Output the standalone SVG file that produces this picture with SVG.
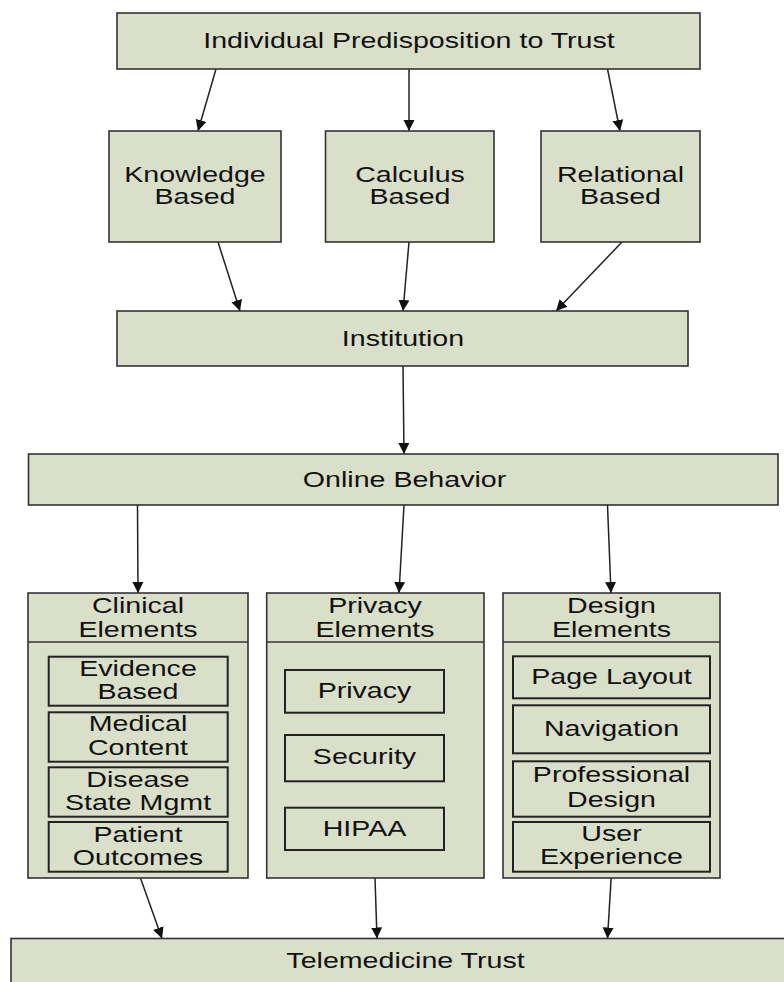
<svg xmlns="http://www.w3.org/2000/svg" width="784" height="982" viewBox="0 0 784 982">
<defs>
<style>
.box{fill:#dadfca;stroke:#333;stroke-width:1.6}
.inner{fill:#dadfca;stroke:#222;stroke-width:2}
.div{stroke:#333;stroke-width:1.6}
.t{font-family:"Liberation Sans",Arial,sans-serif;font-size:22px;fill:#111;text-anchor:middle}
.c{stroke:#222;stroke-width:1.5;fill:none;marker-end:url(#ah)}
</style>
<marker id="ah" viewBox="0 0 10 10" refX="10" refY="5" markerUnits="userSpaceOnUse" markerWidth="11" markerHeight="13" orient="auto">
<path d="M0,0 L10,5 L0,10 z" fill="#111"/>
</marker>
</defs>
<rect width="784" height="982" fill="#fff"/>
<g id="connectors">
<line class="c" x1="216" y1="69" x2="198" y2="131"/>
<line class="c" x1="409" y1="69" x2="409" y2="131"/>
<line class="c" x1="607.5" y1="69" x2="620" y2="131"/>
<line class="c" x1="218" y1="242" x2="240" y2="311"/>
<line class="c" x1="409" y1="242" x2="403" y2="311"/>
<line class="c" x1="622" y1="242" x2="556" y2="311"/>
<line class="c" x1="403" y1="366" x2="404" y2="454"/>
<line class="c" x1="137.5" y1="505" x2="138" y2="593"/>
<line class="c" x1="404" y1="505" x2="399" y2="593"/>
<line class="c" x1="607.5" y1="505" x2="611" y2="593"/>
<line class="c" x1="138.3" y1="872" x2="162" y2="938.5"/>
<line class="c" x1="375" y1="878" x2="377" y2="938.5"/>
<line class="c" x1="611.5" y1="872" x2="607.5" y2="938.5"/>
</g>
<g id="predisposition">
<rect class="box" x="117" y="13" width="583" height="56"/>
<text class="t" transform="translate(409 0) scale(1.3 1)"><tspan x="0" y="48.5">Individual Predisposition to Trust</tspan></text>
</g>
<g id="knowledge">
<rect class="box" x="109" y="131" width="172" height="111"/>
<text class="t" transform="translate(195 0) scale(1.3 1)"><tspan x="0" y="182">Knowledge</tspan><tspan x="0" y="204.5">Based</tspan></text>
</g>
<g id="calculus">
<rect class="box" x="325.5" y="131" width="168.5" height="111"/>
<text class="t" transform="translate(410 0) scale(1.3 1)"><tspan x="0" y="182">Calculus</tspan><tspan x="0" y="204.5">Based</tspan></text>
</g>
<g id="relational">
<rect class="box" x="541" y="131" width="159" height="111"/>
<text class="t" transform="translate(620.5 0) scale(1.3 1)"><tspan x="0" y="182">Relational</tspan><tspan x="0" y="204.5">Based</tspan></text>
</g>
<g id="institution">
<rect class="box" x="117" y="311" width="571" height="55"/>
<text class="t" transform="translate(403 0) scale(1.3 1)"><tspan x="0" y="346.5">Institution</tspan></text>
</g>
<g id="online">
<rect class="box" x="28.5" y="454" width="749.5" height="51"/>
<text class="t" transform="translate(404.5 0) scale(1.3 1)"><tspan x="0" y="487">Online Behavior</tspan></text>
</g>
<g id="clinical">
<rect class="box" x="28" y="593" width="220" height="285"/>
<line class="div" x1="28" y1="642" x2="248" y2="642"/>
<text class="t" transform="translate(138 0) scale(1.3 1)"><tspan x="0" y="613">Clinical</tspan><tspan x="0" y="637">Elements</tspan></text>
<rect class="inner" x="48.7" y="656.7" width="179" height="49"/>
<text class="t" transform="translate(138 0) scale(1.3 1)"><tspan x="0" y="676.5">Evidence</tspan><tspan x="0" y="699.5">Based</tspan></text>
<rect class="inner" x="48.7" y="712.3" width="179" height="49.4"/>
<text class="t" transform="translate(138 0) scale(1.3 1)"><tspan x="0" y="731.5">Medical</tspan><tspan x="0" y="755">Content</tspan></text>
<rect class="inner" x="48.7" y="767.3" width="179" height="49.4"/>
<text class="t" transform="translate(138 0) scale(1.3 1)"><tspan x="0" y="787">Disease</tspan><tspan x="0" y="810">State Mgmt</tspan></text>
<rect class="inner" x="48.7" y="822" width="179" height="49.7"/>
<text class="t" transform="translate(138 0) scale(1.3 1)"><tspan x="0" y="842">Patient</tspan><tspan x="0" y="865">Outcomes</tspan></text>
</g>
<g id="privacy">
<rect class="box" x="266.7" y="593" width="217.3" height="285"/>
<line class="div" x1="266.7" y1="642" x2="484" y2="642"/>
<text class="t" transform="translate(375 0) scale(1.3 1)"><tspan x="0" y="613">Privacy</tspan><tspan x="0" y="637">Elements</tspan></text>
<rect class="inner" x="285" y="670" width="159" height="42.7"/>
<text class="t" transform="translate(364.5 0) scale(1.3 1)"><tspan x="0" y="698">Privacy</tspan></text>
<rect class="inner" x="285" y="735" width="159" height="46.3"/>
<text class="t" transform="translate(364.5 0) scale(1.3 1)"><tspan x="0" y="764.5">Security</tspan></text>
<rect class="inner" x="285" y="807.7" width="159" height="42.3"/>
<text class="t" transform="translate(364.5 0) scale(1.3 1)"><tspan x="0" y="836.5">HIPAA</tspan></text>
</g>
<g id="design">
<rect class="box" x="503" y="593" width="217" height="285"/>
<line class="div" x1="503" y1="642" x2="720" y2="642"/>
<text class="t" transform="translate(611.5 0) scale(1.3 1)"><tspan x="0" y="613">Design</tspan><tspan x="0" y="637">Elements</tspan></text>
<rect class="inner" x="513" y="656.3" width="197" height="42"/>
<text class="t" transform="translate(611.5 0) scale(1.3 1)"><tspan x="0" y="684.5">Page Layout</tspan></text>
<rect class="inner" x="513" y="705.3" width="197" height="48"/>
<text class="t" transform="translate(611.5 0) scale(1.3 1)"><tspan x="0" y="736">Navigation</tspan></text>
<rect class="inner" x="513" y="761.3" width="197" height="55.4"/>
<text class="t" transform="translate(611.5 0) scale(1.3 1)"><tspan x="0" y="782.5">Professional</tspan><tspan x="0" y="807.5">Design</tspan></text>
<rect class="inner" x="513" y="822" width="197" height="49.7"/>
<text class="t" transform="translate(611.5 0) scale(1.3 1)"><tspan x="0" y="841">User</tspan><tspan x="0" y="864">Experience</tspan></text>
</g>
<g id="telemedicine">
<rect class="box" x="11" y="938.5" width="790" height="60"/>
<text class="t" transform="translate(405.5 0) scale(1.3 1)"><tspan x="0" y="968.5">Telemedicine Trust</tspan></text>
</g>
</svg>
